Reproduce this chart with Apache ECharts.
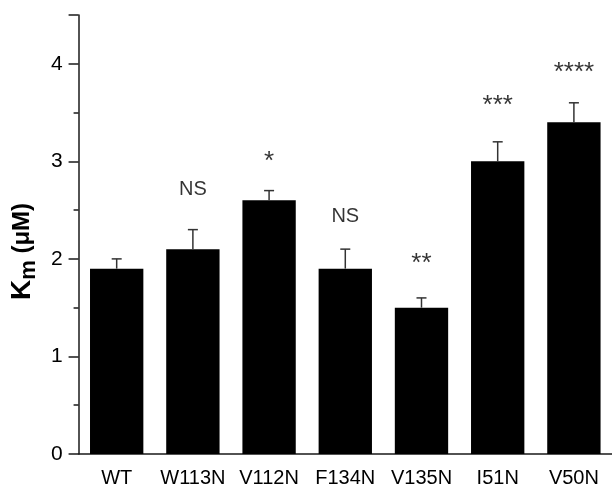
<!DOCTYPE html>
<html>
<head>
<meta charset="utf-8">
<script src="https://cdn.jsdelivr.net/npm/echarts@6/dist/echarts.min.js"></script>
<style>
  html, body { margin: 0; padding: 0; background: #fff; }
  #chart { width: 612px; height: 488px; }
</style>
</head>
<body>
<div id="chart"></div>
<script>
var categories = ['WT', 'W113N', 'V112N', 'F134N', 'V135N', 'I51N', 'V50N'];
var kmValues = [1.9, 2.1, 2.6, 1.9, 1.5, 3.0, 3.4];
var kmErrors = [0.1, 0.2, 0.1, 0.2, 0.1, 0.2, 0.2];
var sigMarks = ['', 'NS', '*', 'NS', '**', '***', '****'];
var sigHeights = [0, 2.71, 3.0, 2.43, 1.95, 3.57, 3.91];

var chart = echarts.init(document.getElementById('chart'));

var errorData = kmValues.map(function (v, i) {
    return [i, v, v + kmErrors[i]];
});

var markData = sigMarks.map(function (m, i) {
    return { value: [i, sigHeights[i]], mark: m };
}).filter(function (d) { return d.mark !== ''; });

var axisColor = '#1a1a1a';
var font = 'Liberation Sans, Arial, sans-serif';

var option = {
    animation: false,
    grid: {
        left: 78,
        top: 15,
        width: 541,
        height: 439
    },
    xAxis: {
        type: 'category',
        data: categories,
        boundaryGap: true,
        axisLine: { lineStyle: { color: axisColor, width: 1.5 } },
        axisTick: { alignWithLabel: true, length: 9, lineStyle: { color: axisColor, width: 1.5 } },
        axisLabel: { interval: 0, color: '#000', fontSize: 20, fontFamily: font, margin: 14 }
    },
    yAxis: {
        type: 'value',
        min: 0,
        max: 4.5,
        interval: 1,
        name: '{k|K}{s|m}{u| (μM)}',
        nameLocation: 'middle',
        nameRotate: 90,
        nameGap: 32,
        nameTextStyle: {
            padding: [0, 34, 0, 0],
            rich: {
                k: { fontSize: 28, fontWeight: 'bold', fontFamily: font, color: '#000' },
                s: { fontSize: 22, fontWeight: 'bold', fontFamily: font, color: '#000', padding: [14, 0, 0, 0] },
                u: { fontSize: 24, fontWeight: 'bold', fontFamily: font, color: '#000' }
            }
        },
        axisLine: { show: true, lineStyle: { color: axisColor, width: 1.5 } },
        axisTick: { show: true, length: 10, lineStyle: { color: axisColor, width: 1.5 } },
        minorTick: { show: true, splitNumber: 2, length: 5, lineStyle: { color: axisColor, width: 1.5 } },
        splitLine: { show: false },
        axisLabel: {
            color: '#000', fontSize: 21, fontFamily: font, margin: 16,
            formatter: function (v) { return v % 1 === 0 ? String(v) : ''; }
        }
    },
    series: [
        {
            type: 'bar',
            data: kmValues,
            barWidth: '70%',
            itemStyle: { color: '#000' }
        },
        {
            type: 'custom',
            data: errorData,
            z: 3,
            renderItem: function (params, api) {
                var base = api.coord([api.value(0), api.value(1)]);
                var top = api.coord([api.value(0), api.value(2)]);
                var style = { stroke: '#333', lineWidth: 1.5 };
                return {
                    type: 'group',
                    children: [
                        { type: 'line', shape: { x1: base[0], y1: base[1], x2: top[0], y2: top[1] }, style: style },
                        { type: 'line', shape: { x1: top[0] - 5, y1: top[1], x2: top[0] + 5, y2: top[1] }, style: style }
                    ]
                };
            }
        },
        {
            type: 'scatter',
            data: markData,
            symbolSize: 1,
            itemStyle: { color: 'rgba(0,0,0,0)' },
            label: {
                show: true,
                position: 'inside',
                formatter: function (p) {
                    return p.data.mark === 'NS' ? '{n|NS}' : '{s|' + p.data.mark + '}';
                },
                rich: {
                    n: { fontSize: 20, fontFamily: font, color: '#000' },
                    s: { fontSize: 26, fontFamily: font, color: '#000' }
                }
            }
        }
    ]
};

chart.setOption(option);
</script>
</body>
</html>
